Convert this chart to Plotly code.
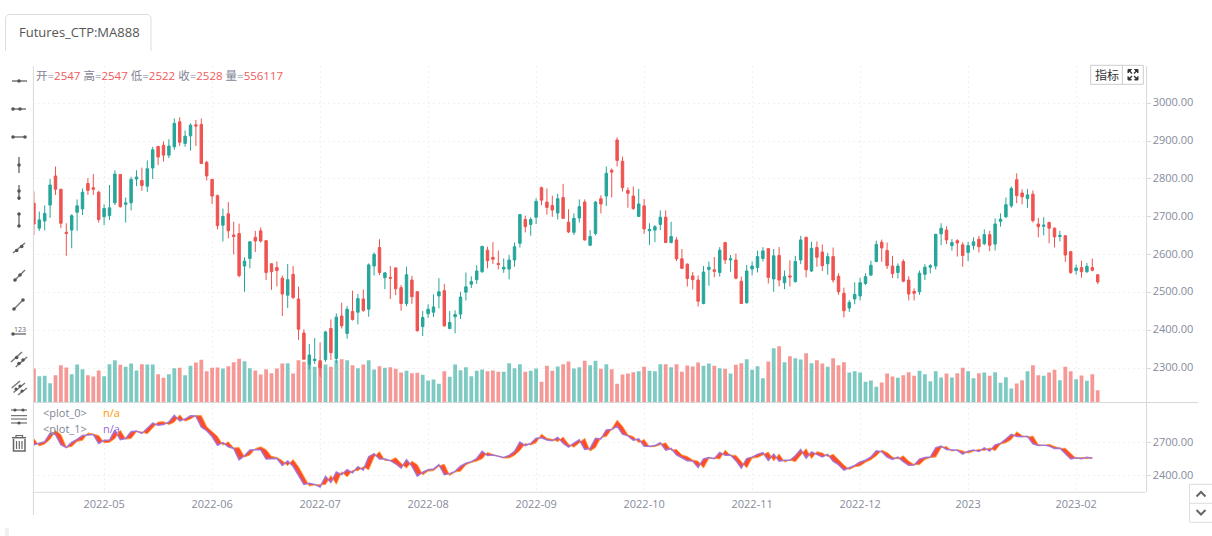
import plotly.graph_objects as go

W, H = 1212, 536

tick_positions = [13, 33, 53, 73, 93, 113, 133, 153, 173, 193]
tick_labels = ["2022-05", "2022-06", "2022-07", "2022-08", "2022-09",
               "2022-10", "2022-11", "2022-12", "2023", "2023-02"]
price_ticks = [2300, 2400, 2500, 2600, 2700, 2800, 2900, 3000]
indicator_ticks = [2400, 2700]

opens = [2736,2670,2689,2731,2808,2773,2659,2665,2712,2721,2788,2777,2765,2700,2703,2737,2812,2733,2737,2800,
         2796,2781,2829,2886,2889,2863,2885,2951,2894,2914,2943,2944,2844,2799,2756,2678,2708,2652,2656,2570,
         2590,2646,2663,2637,2576,2566,2538,2493,2548,2483,2393,2309,2320,2320,2323,2405,2326,2438,2392,2450,
         2448,2483,2456,2570,2619,2539,2540,2565,2513,2471,2533,2502,2410,2444,2448,2491,2505,2405,2436,2443,
         2501,2522,2534,2555,2612,2593,2577,2562,2562,2586,2630,2693,2680,2699,2777,2739,2730,2710,2751,2686,
         2659,2697,2739,2625,2656,2748,2755,2823,2903,2847,2770,2755,2701,2729,2663,2665,2680,2699,2632,2639,
         2589,2575,2544,2533,2471,2561,2560,2553,2632,2586,2586,2530,2473,2562,2566,2590,2616,2536,2598,2526,
         2544,2529,2586,2646,2557,2619,2607,2576,2595,2543,2498,2459,2483,2491,2524,2546,2582,2633,2611,2570,
         2553,2582,2533,2503,2502,2548,2567,2570,2655,2665,2624,2637,2626,2606,2624,2641,2629,2653,2628,2688,
         2700,2729,2798,2763,2748,2760,2681,2675,2685,2670,2648,2650,2608,2558,2566,2555,2566,2547]
highs = [2767,2714,2730,2800,2833,2773,2683,2707,2746,2775,2802,2813,2769,2733,2784,2823,2813,2751,2806,2823,
         2830,2849,2885,2887,2899,2905,2960,2963,2928,2947,2956,2960,2848,2799,2759,2722,2739,2687,2682,2593,
         2636,2663,2672,2639,2577,2582,2545,2575,2570,2516,2403,2364,2380,2368,2399,2429,2445,2473,2464,2505,
         2496,2508,2577,2606,2641,2553,2570,2566,2520,2568,2544,2504,2451,2469,2495,2538,2523,2451,2453,2502,
         2553,2543,2572,2623,2621,2633,2611,2590,2599,2632,2707,2703,2699,2749,2780,2775,2756,2761,2787,2720,
         2709,2746,2746,2665,2742,2757,2833,2828,2910,2859,2778,2780,2774,2747,2683,2678,2717,2717,2687,2646,
         2615,2577,2554,2545,2570,2582,2594,2620,2634,2599,2603,2542,2573,2582,2611,2620,2618,2615,2620,2558,
         2585,2597,2650,2647,2634,2635,2627,2605,2619,2551,2513,2480,2527,2539,2551,2584,2637,2640,2632,2597,
         2577,2588,2543,2511,2558,2575,2575,2655,2683,2675,2641,2641,2633,2634,2646,2650,2667,2663,2696,2709,
         2751,2780,2815,2773,2774,2770,2697,2699,2687,2672,2663,2652,2610,2574,2584,2578,2590,2547]
lows = [2652,2663,2664,2697,2758,2670,2597,2617,2663,2705,2758,2758,2685,2678,2692,2731,2724,2685,2717,2781,
        2769,2766,2800,2837,2846,2855,2877,2887,2885,2875,2887,2841,2796,2734,2667,2635,2643,2601,2540,2502,
        2564,2607,2632,2533,2507,2516,2438,2459,2483,2375,2322,2297,2311,2278,2317,2322,2313,2405,2378,2426,
        2416,2449,2436,2545,2546,2509,2483,2493,2452,2464,2470,2397,2385,2433,2435,2458,2410,2403,2392,2430,
        2479,2512,2523,2552,2564,2575,2561,2552,2535,2568,2619,2659,2650,2681,2731,2706,2700,2693,2696,2657,
        2652,2685,2637,2623,2651,2709,2729,2751,2833,2767,2724,2718,2700,2655,2626,2633,2665,2631,2630,2583,
        2562,2516,2508,2463,2469,2518,2540,2542,2575,2555,2535,2470,2471,2545,2553,2582,2524,2502,2516,2509,
        2516,2526,2575,2540,2554,2568,2557,2547,2526,2494,2434,2449,2469,2479,2520,2545,2580,2581,2562,2538,
        2537,2527,2479,2479,2494,2533,2551,2561,2625,2628,2611,2595,2568,2583,2613,2606,2625,2609,2611,2674,
        2697,2724,2736,2733,2724,2685,2646,2651,2630,2619,2635,2581,2549,2547,2539,2552,2556,2522]
closes = [2681,2692,2709,2784,2773,2683,2656,2703,2729,2765,2770,2773,2693,2722,2724,2813,2727,2737,2799,2805,
          2783,2827,2877,2858,2863,2887,2947,2897,2913,2942,2940,2841,2808,2755,2677,2701,2663,2648,2545,2583,
          2634,2636,2636,2553,2555,2558,2496,2534,2487,2403,2324,2335,2324,2301,2396,2341,2435,2412,2456,2429,
          2484,2453,2573,2601,2553,2552,2538,2510,2471,2547,2489,2399,2434,2456,2462,2502,2412,2421,2442,2488,
          2515,2529,2557,2622,2584,2588,2574,2567,2586,2621,2706,2674,2693,2741,2744,2725,2718,2748,2696,2660,
          2696,2727,2639,2648,2739,2734,2815,2818,2849,2777,2762,2722,2734,2668,2667,2674,2699,2632,2648,2589,
          2564,2537,2534,2477,2554,2567,2556,2612,2586,2589,2538,2471,2557,2570,2595,2610,2540,2597,2533,2542,
          2541,2582,2639,2560,2617,2593,2571,2595,2533,2502,2452,2474,2495,2526,2542,2572,2627,2618,2571,2550,
          2570,2530,2496,2498,2551,2567,2571,2654,2670,2639,2632,2631,2598,2624,2634,2621,2653,2625,2681,2694,
          2732,2775,2756,2753,2758,2690,2674,2678,2670,2647,2651,2599,2553,2565,2555,2569,2559,2528]
# Traded volume per bar, in thousands of lots
volumes_k = [1537,1190,1205,874,1235,1688,1582,1281,1718,1507,1235,1175,1446,1190,1733,1914,1703,1612,1763,1446,
             1733,1718,1718,1281,1115,1281,1552,1567,1235,1657,1808,1929,1416,1567,1582,1537,1642,1823,1974,1868,
             1552,1446,1266,1507,1326,1537,1763,1778,1311,1914,1838,1688,1612,1763,1718,1612,1914,1959,1914,1688,
             1552,1718,1914,1492,1642,1567,1597,1522,1356,1431,1326,1341,1251,994,1040,844,1416,1160,1718,1461,
             1597,1190,1431,1492,1416,1446,1386,1386,1778,1552,1733,1386,1431,1537,934,1657,1431,1627,1733,1853,
             1537,1597,1883,1688,1883,1522,1733,1507,844,1266,1311,1371,1416,1612,1431,1416,1733,1733,1597,1733,
             1386,1672,1627,1808,1657,1763,1657,1552,1522,1311,1703,1778,1959,1477,1642,1100,1853,2456,2546,1823,
             2094,2004,1944,2230,1778,1914,1763,1612,2004,1688,1823,1356,1416,1356,934,994,708,904,1311,1175,
             1115,1235,1371,1205,1431,1281,964,1416,1130,1311,1130,1326,1567,1416,1100,1326,1356,1205,1371,889,
             1145,633,859,1009,1416,1688,1235,1205,1356,1477,1009,1612,1416,1055,1220,979,1281,556.117]

# The two indicator plots follow the bar open and close, and stop one bar short of the last candle
plot_0 = opens[:-1]
plot_1 = closes[:-1]

bar_index = list(range(len(opens)))

TEAL = "#26a69a"
RED = "#ef5350"
GRID = "#f1f1f1"
AXIS_LINE = "#d9d9d9"
LABEL = "#868c9c"
FONT = "Open Sans, Noto Sans CJK SC, sans-serif"


def px(x):
    return x / W


def py(y):
    return 1 - y / H


def line(x0, y0, x1, y1, color="#777777", width=1.5):
    return dict(type="line", xref="paper", yref="paper", x0=px(x0), y0=py(y0),
                x1=px(x1), y1=py(y1), line=dict(color=color, width=width))


def dot(x, y, r=1.8, color="#555555"):
    return dict(type="circle", xref="paper", yref="paper", x0=px(x - r), y0=py(y - r),
                x1=px(x + r), y1=py(y + r), fillcolor=color, line=dict(width=0))


def path(points, color="#dddddd", width=1, fill=None, closed=False):
    d = "M" + " L".join(f"{px(a):.5f},{py(b):.5f}" for a, b in points) + (" Z" if closed else "")
    s = dict(type="path", xref="paper", yref="paper", path=d, line=dict(color=color, width=width))
    if fill:
        s["fillcolor"] = fill
    return s


def rect(x0, y0, x1, y1, color="#dddddd", fill=None, width=1):
    return dict(type="rect", xref="paper", yref="paper", x0=px(x0), y0=py(y0), x1=px(x1), y1=py(y1),
                line=dict(color=color, width=width), fillcolor=fill or "rgba(0,0,0,0)")


def note(x, y, text, size=11, color=LABEL, anchor="left"):
    return dict(xref="paper", yref="paper", x=px(x), y=py(y), text=text, showarrow=False,
                xanchor=anchor, yanchor="middle", font=dict(size=size, color=color, family=FONT),
                borderpad=0, borderwidth=0)


fig = go.Figure()

fig.add_trace(go.Bar(
    x=bar_index, y=[v * 1000 for v in volumes_k], xaxis="x", yaxis="y",
    marker=dict(color=[RED if c < o else TEAL for o, c in zip(opens, closes)], opacity=0.6, line=dict(width=0)),
    width=0.7,
))
fig.add_trace(go.Candlestick(
    x=bar_index, open=opens, high=highs, low=lows, close=closes, xaxis="x", yaxis="y2",
    increasing=dict(line=dict(color=TEAL, width=1), fillcolor=TEAL),
    decreasing=dict(line=dict(color=RED, width=1), fillcolor=RED),
    whiskerwidth=0,
))
fig.add_trace(go.Scatter(
    x=bar_index[:-1], y=plot_0, xaxis="x2", yaxis="y3", mode="lines",
    line=dict(color="#ff9a2e", width=1),
))
fig.add_trace(go.Scatter(
    x=bar_index[:-1], y=plot_1, xaxis="x2", yaxis="y3", mode="lines",
    line=dict(color="rgba(160,112,215,0.92)", width=1.5),
    fill="tonexty", fillcolor="#ff4a2e",
))

shapes = [
    # pane frame
    line(33.4, 66, 33.4, 515, AXIS_LINE, 1),
    line(33.4, 402.5, 1198, 402.5, AXIS_LINE, 1),
    line(33.4, 492.3, 1145.5, 492.3, AXIS_LINE, 1),
    # tab outline
    path([(5.5, 51), (5.5, 17), (8.5, 14.5), (148, 14.5), (151, 17), (151, 51)], "#dddddd", 1),
    # indicator and fullscreen button
    rect(1090.7, 65.3, 1143.3, 84.3, "#cccccc", "#ffffff"),
    line(1122.3, 65.3, 1122.3, 84.3, "#cccccc", 1),
    # scroll buttons
    rect(1189.5, 484.3, 1213, 522.3, "#dddddd", "#ffffff"),
    line(1189.5, 503.3, 1212, 503.3, "#dddddd", 1),
    path([(1196.5, 496.5), (1201, 492), (1205.5, 496.5)], "#666666", 2),
    path([(1196.5, 510), (1201, 514.5), (1205.5, 510)], "#666666", 2),
    # small square at the page corner
    rect(5, 528, 9, 536, "#f0f0f0", "#f0f0f0", 0),
]

# fullscreen corners
for cx, cy, sx, sy in [(1128, 69.5, 1, 1), (1138, 69.5, -1, 1), (1128, 80, 1, -1), (1138, 80, -1, -1)]:
    shapes.append(path([(cx, cy), (cx + 3.5 * sx, cy), (cx, cy + 3.5 * sy)], "#333333", 1, "#333333", True))
    shapes.append(line(cx + 1 * sx, cy + 1 * sy, cx + 4 * sx, cy + 4 * sy, "#333333", 1.2))

# drawing tool icons
shapes += [
    line(12, 81, 27, 81), dot(19, 81),
    line(12, 109, 26, 109), dot(13, 109), dot(20, 109),
    line(12, 137, 26, 137), dot(13, 137), dot(25, 137),
    line(19, 157, 19, 173), dot(19, 165),
    line(19, 185, 19, 200), dot(19, 191), dot(19, 198),
    line(19, 213, 19, 227), dot(19, 214), dot(19, 226),
    line(13, 253, 25, 243), dot(16.7, 250.5), dot(21.7, 246.5),
    line(14, 281, 25, 270), dot(15, 280), dot(20, 275),
    line(14, 309, 23, 300), dot(14, 309), dot(23, 300),
    line(13, 334, 26, 334), dot(13, 334),
    line(11, 362, 22, 352), dot(16.7, 357.5),
    line(15.7, 367, 27, 357), dot(19, 363.5), dot(23, 360),
    line(11.7, 388, 20, 381), line(13.5, 392.5, 25, 383), line(18, 395, 27, 388),
    dot(16, 389, 1.6), dot(20, 386, 1.6), dot(22, 391, 1.6),
    line(11, 410, 27, 410, "#555555", 1), dot(15, 410, 1.6), dot(23, 410, 1.6),
    line(11, 415.7, 27, 415.7, "#555555", 1),
    line(11, 419, 27, 419, "#555555", 1),
    line(11, 423, 27, 423, "#555555", 1), dot(19, 423, 1.6),
    # trash can
    line(12, 437.7, 26, 437.7, "#666666", 1.5),
    path([(16, 437.5), (16, 435.5), (22.5, 435.5), (22.5, 437.5)], "#666666", 1.2),
    path([(13.5, 439), (13.5, 451), (25, 451), (25, 439)], "#666666", 1.5),
    line(16.5, 441, 16.5, 449, "#666666", 1.2),
    line(19.3, 441, 19.3, 449, "#666666", 1.2),
    line(22, 441, 22, 449, "#666666", 1.2),
]


def legend_value(v):
    return f'<span style="color:#f05a5a">{v}</span>'


quote = (f"开={legend_value(opens[-1])} 高={legend_value(highs[-1])} 低={legend_value(lows[-1])} "
         f"收={legend_value(closes[-1])} 量={legend_value(556117)}")

annotations = [
    note(19, 31.5, "Futures_CTP:MA888", 13, "#555555"),
    note(35.5, 75, quote, 11.5, "#7f8494"),
    note(43, 412, "&lt;plot_0&gt;", 11, "#7f8494"),
    note(103, 412, "n/a", 11, "#ff9800"),
    note(43, 428, "&lt;plot_1&gt;", 11, "#7f8494"),
    note(103, 428, "n/a", 11, "#9b69d7"),
    note(1106.5, 75, "指标", 12, "#333333", "center"),
    note(20, 329.5, "123", 7, "#666666", "center"),
]

axis_common = dict(showgrid=True, gridcolor=GRID, griddash="2px,3px", gridwidth=1, zeroline=False)

fig.update_layout(
    width=W, height=H, margin=dict(l=0, r=0, t=0, b=0, pad=0, autoexpand=False),
    paper_bgcolor="#ffffff", plot_bgcolor="#ffffff", showlegend=False,
    boxgap=0.35, dragmode=False, hovermode=False,
    font=dict(family=FONT, size=11, color=LABEL),
    xaxis=dict(domain=[px(33.4), px(1145.5)], range=[-0.093, 205.85], anchor="y",
               tickmode="array", tickvals=tick_positions, showticklabels=False, ticks="",
               rangeslider=dict(visible=False), **axis_common),
    yaxis=dict(domain=[py(402.5), py(66)], range=[0, 336.5 * 45200], visible=False, anchor="x"),
    yaxis2=dict(domain=[py(402.5), py(66)], range=[2209.5, 3098.5], overlaying="y", side="right", anchor="x",
                tickmode="array", tickvals=price_ticks, tickformat=".2f", ticks="outside", ticklen=4,
                tickcolor=AXIS_LINE, showline=True, linecolor=AXIS_LINE, linewidth=1, ticklabelshift=-1,
                tickfont=dict(size=11, color=LABEL), **axis_common),
    xaxis2=dict(domain=[px(33.4), px(1145.5)], range=[-0.093, 205.85], anchor="y3",
                tickmode="array", tickvals=tick_positions, ticktext=tick_labels, ticks="",
                ticklabelstandoff=4, tickfont=dict(size=11, color=LABEL), **axis_common),
    yaxis3=dict(domain=[py(492.3), py(403)], range=[2253, 3057.6], side="right", anchor="x2",
                tickmode="array", tickvals=indicator_ticks, tickformat=".2f", ticks="outside", ticklen=4,
                tickcolor=AXIS_LINE, showline=True, linecolor=AXIS_LINE, linewidth=1, ticklabelshift=-1,
                tickfont=dict(size=11, color=LABEL), **axis_common),
    shapes=shapes,
    annotations=annotations,
)

fig.write_html("out.html", config=dict(displayModeBar=False, responsive=False))
